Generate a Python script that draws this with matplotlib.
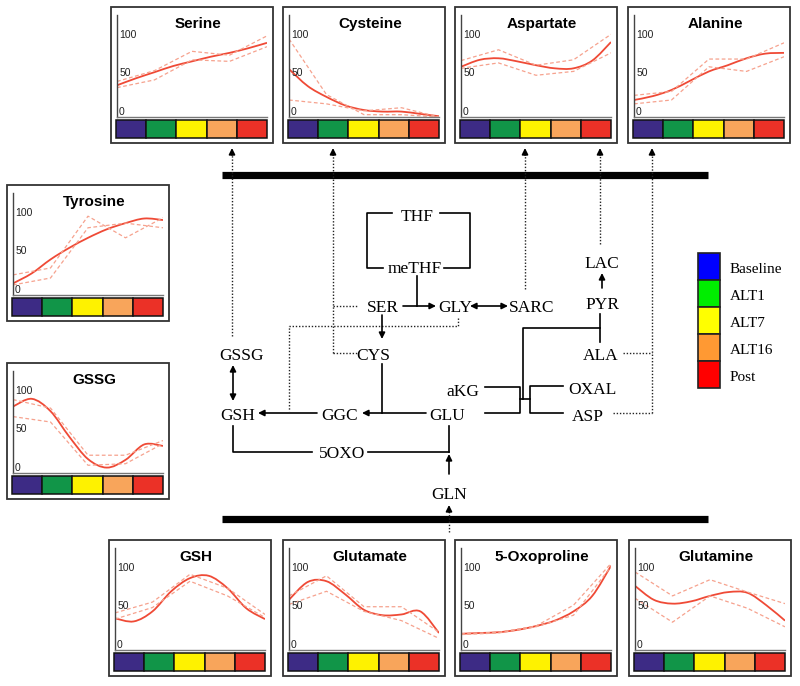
#!/usr/bin/env python3
"""
Metabolic pathway diagram with small time-course panels around it.
"""
import numpy as np
import matplotlib
matplotlib.use('Agg')
import matplotlib.pyplot as plt
from matplotlib.path import Path
from matplotlib.patches import PathPatch, Rectangle

# ---- data (scale 0-100) ----
timepoints = ["Baseline", "ALT1", "ALT7", "ALT16", "Post"]
bar_colors = ["#3d2b85", "#119548", "#fef200", "#f8a55b", "#eb3127"]
legend_colors = ["#0000ff", "#00ee00", "#ffff00", "#ff9933", "#ff0000"]

# fitted curve read at half-steps (0, 0.5, ... 4), raw series at the 5 timepoints
serine_fit = [41, 50, 58, 66, 72, 78, 83, 89, 96]
serine_a = [46, 60, 85, 80, 105]
serine_b = [38, 48, 74, 72, 91]

cysteine_fit = [62, 40, 26, 15, 9, 7, 7, 4, 1]
cysteine_a = [101, 29, 3, 3, 0]
cysteine_b = [22, 17, 8, 12, 0]

aspartate_fit = [65, 74, 76, 72, 67, 63, 63, 73, 97]
aspartate_a = [73, 87, 67, 74, 107]
aspartate_b = [63, 70, 54, 59, 83]

alanine_fit = [22, 27, 35, 47, 59, 67, 76, 82, 83]
alanine_a = [28, 33, 75, 75, 96]
alanine_b = [17, 22, 65, 59, 78]

tyrosine_fit = [15, 28, 46, 61, 74, 85, 93, 99, 97]
tyrosine_a = [26, 35, 102, 74, 100]
tyrosine_b = [13, 22, 87, 93, 87]

gssg_fit = [86, 96, 80, 47, 18, 7, 17, 37, 35]
gssg_a = [95, 84, 23, 23, 42]
gssg_b = [73, 66, 10, 12, 38]

gsh_fit = [41, 37, 50, 76, 93, 96, 80, 54, 40]
gsh_a = [48, 62, 98, 80, 46]
gsh_b = [40, 55, 89, 70, 42]

glutamate_fit = [65, 88, 89, 72, 52, 45, 46, 50, 22]
glutamate_a = [70, 96, 56, 56, 23]
glutamate_b = [59, 76, 50, 38, 15]

oxoproline_fit = [21, 22, 23, 26, 31, 38, 50, 70, 109]
oxoproline_a = [21, 23, 31, 58, 112]
oxoproline_b = [20, 22, 30, 45, 108]

glutamine_fit = [83, 65, 60, 63, 70, 75, 74, 58, 38]
glutamine_a = [101, 70, 91, 75, 60]
glutamine_b = [67, 36, 70, 54, 30]

# panel layout: title, box left, box top (pixels), series
panels = [
    ("Serine", 111, 7, serine_fit, serine_a, serine_b),
    ("Cysteine", 283, 7, cysteine_fit, cysteine_a, cysteine_b),
    ("Aspartate", 455, 7, aspartate_fit, aspartate_a, aspartate_b),
    ("Alanine", 628, 7, alanine_fit, alanine_a, alanine_b),
    ("Tyrosine", 7, 185, tyrosine_fit, tyrosine_a, tyrosine_b),
    ("GSSG", 7, 363, gssg_fit, gssg_a, gssg_b),
    ("GSH", 109, 540, gsh_fit, gsh_a, gsh_b),
    ("Glutamate", 283, 540, glutamate_fit, glutamate_a, glutamate_b),
    ("5-Oxoproline", 455, 540, oxoproline_fit, oxoproline_a, oxoproline_b),
    ("Glutamine", 629, 540, glutamine_fit, glutamine_a, glutamine_b),
]

W, H = 800, 686
plt.rcParams['font.family'] = ['Liberation Sans', 'DejaVu Sans']
fig = plt.figure(figsize=(W / 100, H / 100), dpi=100)
main = fig.add_axes([0, 0, 1, 1])
main.set_xlim(0, W); main.set_ylim(H, 0); main.axis('off')


def px_axes(x, y, w, h):
    return fig.add_axes([x / W, 1 - (y + h) / H, w / W, h / H])


def smooth_path(xs, ys):
    pts = np.column_stack([xs, ys]).astype(float)
    verts = [pts[0]]; codes = [Path.MOVETO]
    n = len(pts)
    for i in range(n - 1):
        p0 = pts[max(i - 1, 0)]; p1 = pts[i]; p2 = pts[i + 1]; p3 = pts[min(i + 2, n - 1)]
        verts += [p1 + (p2 - p0) / 6, p2 - (p3 - p1) / 6, p2]
        codes += [Path.CURVE4] * 3
    return Path(verts, codes)


RED = "#ef4a36"
LRED = "#f6a28e"
PW, PH = 162, 136

for title, bx, by, fit, sa, sb in panels:
    main.add_patch(Rectangle((bx, by), PW, PH, fill=False, edgecolor="#333333", lw=1.3))
    main.text(bx + 87, by + 17, title, ha='center', va='center', fontsize=11, fontweight='bold')
    ax = px_axes(bx + 6, by + 8, 150, 102)
    ax.set_xlim(0, 4); ax.set_ylim(0, 132)
    ax.patch.set_alpha(0)
    for s in ['top', 'right']:
        ax.spines[s].set_visible(False)
    ax.spines['left'].set_color('#444444'); ax.spines['bottom'].set_color('#777777')
    ax.spines['left'].set_linewidth(1.0); ax.spines['bottom'].set_linewidth(1.0)
    ax.set_xticks([]); ax.set_yticks([])
    x5 = np.arange(len(timepoints))
    ax.plot(x5, sa, ls=(0, (3, 2)), color=LRED, lw=0.9)
    ax.plot(x5, sb, ls=(0, (3, 2)), color=LRED, lw=0.9)
    xf = np.arange(len(fit)) / 2
    ax.add_patch(PathPatch(smooth_path(xf, fit), fill=False, edgecolor=RED, lw=1.3))
    for v in [0, 50, 100]:
        ax.annotate(str(v), xy=(0, v), xytext=(1.5, 0), textcoords='offset points',
                    ha='left', va='bottom', fontsize=7.5, color='#222222')
    bax = px_axes(bx + 5, by + 113, 151, 18)
    bax.bar(x5, [1] * len(timepoints), width=1, color=bar_colors, edgecolor='#111111',
            lw=1.1, clip_on=False)
    bax.set_xlim(-0.5, 4.5); bax.set_ylim(0, 1); bax.axis('off')

# ---- pathway diagram (pixel coordinates) ----
K = 'black'
main.plot([222, 708], [175, 175], color=K, lw=5.2, solid_capstyle='butt')
main.plot([222, 708], [519, 519], color=K, lw=5.2, solid_capstyle='butt')


def seg(pts, dotted=False):
    xs, ys = zip(*pts)
    if dotted:
        main.plot(xs, ys, color='#222222', lw=1.0, ls=(0, (1, 1.3)))
    else:
        main.plot(xs, ys, color=K, lw=1.2)


def arrow(p0, p1, style='-|>'):
    main.annotate('', xy=p1, xytext=p0,
                  arrowprops=dict(arrowstyle=style, color=K, lw=1.2, mutation_scale=9,
                                  shrinkA=0, shrinkB=0))


def dotted_arrow_up(x, y0, y1):
    seg([(x, y0), (x, y1 + 6)], dotted=True)
    arrow((x, y1 + 7), (x, y1))


nodes = {
    "THF": (417, 215), "meTHF": (415, 267), "SER": (383, 306), "GLY": (455, 306),
    "SARC": (532, 306), "CYS": (373, 354), "GSSG": (242, 354), "GSH": (238, 414),
    "GGC": (340, 414), "GLU": (447, 414), "aKG": (463, 390), "5OXO": (342, 452),
    "GLN": (449, 493), "LAC": (602, 262), "PYR": (602, 303), "ALA": (601, 354),
    "OXAL": (592, 388), "ASP": (588, 415),
}
for name, (x, y) in nodes.items():
    main.text(x, y, name, ha='center', va='center_baseline', fontsize=12.5,
              family='Liberation Serif')

# THF cycle bracket
seg([(392, 213), (367, 213), (367, 268), (383, 268)])
seg([(440, 213), (470, 213), (470, 268), (444, 268)])
seg([(417, 276), (417, 306)])
arrow((403, 306), (436, 306))
arrow((470, 306), (508, 306), '<|-|>')
arrow((382, 315), (382, 339))
seg([(382, 364), (382, 413)])
arrow((426, 413), (362, 413))
arrow((317, 413), (258, 413))
arrow((233, 365), (233, 401), '<|-|>')
seg([(233, 426), (233, 452), (312, 452)])
seg([(368, 452), (449, 452)])
seg([(449, 426), (449, 452)])
arrow((449, 474), (449, 454))
dotted_arrow_up(449, 532, 505)

# aKG / GLU -> OXAL / ASP junction, PYR / ALA
seg([(485, 387), (520, 387), (520, 413), (485, 413)])
seg([(520, 399), (530, 399)])
seg([(563, 386), (530, 386), (530, 413), (563, 413)])
seg([(523, 399), (523, 328), (600, 328)])
seg([(600, 314), (600, 342)])
arrow((602, 288), (602, 273))

# dotted links to panels
seg([(333, 306), (358, 306)], dotted=True)
seg([(333, 353), (357, 353)], dotted=True)
dotted_arrow_up(333, 353, 148)
dotted_arrow_up(232, 336, 148)
dotted_arrow_up(525, 289, 148)
dotted_arrow_up(600, 244, 148)
seg([(458, 318), (458, 326), (289, 326), (289, 411)], dotted=True)
seg([(623, 353), (652, 353)], dotted=True)
seg([(613, 413), (652, 413)], dotted=True)
dotted_arrow_up(652, 413, 148)

# legend
for i, (lab, col) in enumerate(zip(timepoints, legend_colors)):
    main.add_patch(Rectangle((698, 253 + i * 27), 22, 27, facecolor=col,
                             edgecolor='#222222', lw=1.2))
    main.text(730, 268 + i * 27, lab, ha='left', va='center_baseline', fontsize=11,
              family='Liberation Serif')

fig.savefig('out.png', dpi=100)
